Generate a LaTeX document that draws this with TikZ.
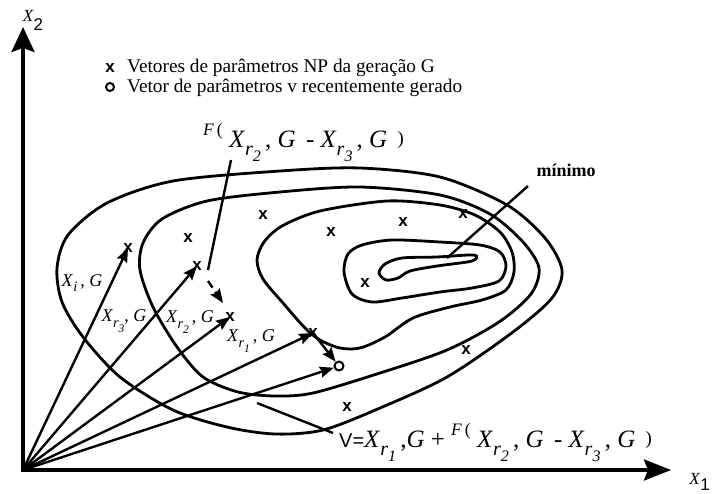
\documentclass[tikz,border=0pt]{standalone}
\usepackage{fontspec}
\setmainfont{Liberation Serif}
\setsansfont{Liberation Sans}
\usetikzlibrary{arrows.meta}
\newcommand{\lowsub}[1]{\raisebox{-0.32em}{\scalebox{0.8}{#1}}}
\newcommand{\Xsub}[1]{\textit{X}\lowsub{\textit{#1}}}
\newcommand{\Xr}[1]{\textit{X}\lowsub{\textit{r}\lowsub{\textit{#1}}}}
\newcommand{\smallF}{\raisebox{0.45em}{\scalebox{0.7}{\textit{F}\,(}}}
\newcommand{\smallclose}{\raisebox{0.1em}{\scalebox{0.75}{)}}}

\begin{document}
\begin{tikzpicture}[x=1pt,y=-1pt,
    contour/.style={line width=2.8pt},
    axisline/.style={line width=3.5pt},
    vecline/.style={line width=2.4pt,-{Stealth[length=14pt,width=11pt,inset=2pt]}},
    plainline/.style={line width=2.4pt},
    ptmark/.style={font=\sffamily\bfseries\fontsize{17}{17}\selectfont,inner sep=0pt},
    vlabel/.style={font=\fontsize{18}{18}\selectfont,inner sep=0pt},
    formula/.style={font=\fontsize{25}{25}\selectfont,inner sep=0pt},
    legend/.style={font=\fontsize{19.3}{19.3}\selectfont,inner sep=0pt,anchor=base west}]
    \useasboundingbox (0,0) rectangle (712,493);
    \coordinate (O) at (23,470);
    \coordinate (ytip) at (23,27);
    \coordinate (xtip) at (671,470);
    \draw[axisline,{Stealth[length=25pt,width=23pt,inset=4pt]}-{Stealth[length=27pt,width=21pt,inset=4pt]}] (ytip) -- (O) -- (xtip);
    \node[font=\fontsize{17}{17}\selectfont,inner sep=0pt] (x2lbl) at (33,20) {\textit{X}\raisebox{-9pt}{\sffamily 2}};
    \node[font=\fontsize{17}{17}\selectfont,inner sep=0pt,anchor=east] (x1lbl) at (710,482) {\textit{X}\raisebox{-6pt}{\sffamily 1}};

    \node[ptmark] (leg1m) at (110,68) {x};
    \node[legend] (leg1) at (127,72) {Vetores de parâmetros NP da geração G};
    \node[draw,circle,line width=2pt,inner sep=0pt,minimum size=8pt] (leg2m) at (110,87) {};
    \node[legend] (leg2) at (127,92) {Vetor de parâmetros v recentemente gerado};

    \draw[contour] plot[smooth cycle] coordinates {(57,268) (68,235) (107,203) (173,181) (280,171) (360,168) (440,177) (507,205) (545,238) (562,270) (552,298) (513,332) (447,377) (380,408) (323,430) (275,434) (227,427) (173,410) (120,377) (83,337) (62,302)};
    \draw[contour] plot[smooth cycle] coordinates {(140,270) (143,243) (162,219) (207,201) (280,192) (360,187) (440,195) (490,214) (523,242) (539,268) (531,294) (499,322) (447,350) (380,373) (313,393) (275,396) (238,392) (203,377) (177,347) (153,307)};
    \draw[contour] plot[smooth cycle] coordinates {(257,260) (264,242) (282,226) (320,211) (387,201) (440,205) (475,215) (500,232) (512,252) (514,272) (506,290) (482,300) (450,307) (413,318) (385,337) (360,348) (340,348) (320,340) (305,328) (283,303) (263,279)};
    \draw[contour] plot[smooth cycle] coordinates {(344,272) (348,254) (362,245) (392,240) (440,242) (480,245) (500,252) (506,266) (499,281) (472,288) (440,292) (402,298) (372,302) (352,294)};
    \draw[contour] plot[smooth cycle] coordinates {(379,273) (385,264) (402,258) (437,257) (474,255) (472,261) (437,266) (410,271) (398,278) (386,280)};

    \node[ptmark] (xi) at (128,248) {x};
    \node[ptmark] (m1) at (188,238) {x};
    \node[ptmark] (m2) at (263,215) {x};
    \node[ptmark] (m3) at (331,232) {x};
    \node[ptmark] (m4) at (403,222) {x};
    \node[ptmark] (m5) at (463,214) {x};
    \node[ptmark] (m6) at (365,283) {x};
    \node[ptmark] (xr3) at (197,266) {x};
    \node[ptmark] (xr2) at (230,317) {x};
    \node[ptmark] (xr1) at (313,333) {x};
    \node[ptmark] (m7) at (466,350) {x};
    \node[ptmark] (m8) at (347,407) {x};
    \node[draw,circle,line width=2pt,inner sep=0pt,minimum size=9pt] (v) at (339,366) {};

    \draw[vecline] (O) -- (xi.center);
    \draw[vecline] (O) -- (xr3.center);
    \draw[vecline] (O) -- (xr2.center);
    \draw[vecline] (O) -- (xr1.center);
    \draw[vecline] (O) -- (v);
    \draw[vecline] (xr1.center) -- (v);

    \node[vlabel] (lxi) at (82,283) {\Xsub{i}\,, \textit{G}};
    \node[vlabel] (lxr3) at (124,321) {\Xr{3}, \textit{G}};
    \node[vlabel] (lxr2) at (190,322) {\Xr{2}\,, \textit{G}};
    \node[vlabel] (lxr1) at (251,341) {\Xr{1}\,, \textit{G}};

    \node[formula,anchor=base west] (flbl) at (203,147) {\smallF\ \Xr{2}\,, \textit{G}\, - \Xr{3}\,, \textit{G}\, \smallclose};
    \coordinate (fa) at (231,160);
    \coordinate (fb) at (208,270);
    \draw[plainline] (fa) -- (fb);
    \coordinate (da) at (208,281);
    \coordinate (db) at (223,303);
    \draw[vecline,dash pattern=on 8pt off 5pt] (da) -- (db);

    \node[formula,anchor=base west] (vlbl) at (339,447) {{\sffamily\fontsize{20}{20}\selectfont V=}\Xr{1}\,,\textit{G} + \smallF\ \Xr{2}\,, \textit{G}\, - \Xr{3}\,, \textit{G}\, \smallclose};
    \coordinate (va) at (257,403);
    \coordinate (vb) at (333,433);
    \draw[plainline] (va) -- (vb);

    \node[font=\bfseries\fontsize{18}{18}\selectfont,inner sep=0pt] (minlbl) at (566,170) {mínimo};
    \coordinate (mina) at (528,186);
    \coordinate (minb) at (447,258);
    \draw[plainline] (mina) -- (minb);
\end{tikzpicture}
\end{document}
